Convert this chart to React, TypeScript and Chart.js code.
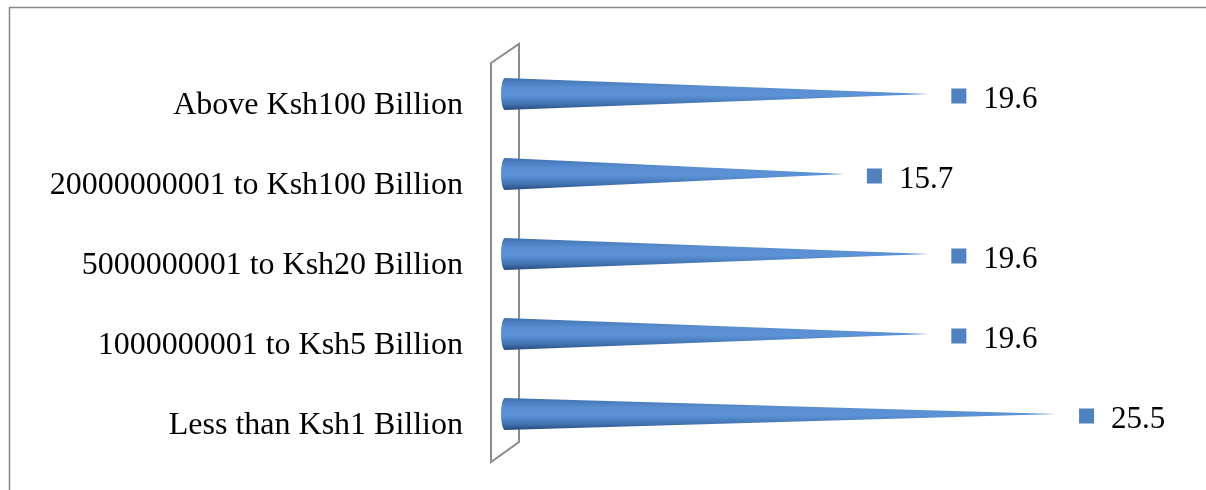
import React, { useEffect, useRef } from "react";
import { Chart, registerables } from "chart.js";

Chart.register(...registerables);

const categories = [
  "Above Ksh100 Billion",
  "20000000001 to Ksh100 Billion",
  "5000000001 to Ksh20 Billion",
  "1000000001 to Ksh5 Billion",
  "Less than Ksh1 Billion",
];
const values = [19.6, 15.7, 19.6, 19.6, 25.5];
const axisMin = 0;
const axisMax = 30;

const FONT = "'Liberation Serif', 'Times New Roman', serif";

export default function App() {
  const ref = useRef<HTMLCanvasElement>(null);

  useEffect(() => {
    const frame = {
      id: "frame",
      beforeDraw(chart: any) {
        const ctx = chart.ctx;
        ctx.save();
        ctx.fillStyle = "#ffffff";
        ctx.fillRect(0, 0, chart.width, chart.height);
        ctx.strokeStyle = "#868686";
        ctx.lineWidth = 1.5;
        ctx.beginPath();
        ctx.moveTo(9.5, chart.height + 5);
        ctx.lineTo(9.5, 7.5);
        ctx.lineTo(chart.width + 5, 7.5);
        ctx.stroke();
        ctx.restore();
      },
    };

    const wall = {
      id: "wall",
      beforeDatasetsDraw(chart: any) {
        const { left, top, bottom } = chart.chartArea;
        const ctx = chart.ctx;
        ctx.save();
        ctx.strokeStyle = "#8c8c8c";
        ctx.lineWidth = 2;
        ctx.beginPath();
        ctx.moveTo(left - 14, top + 9);
        ctx.lineTo(left + 14, top - 10);
        ctx.lineTo(left + 14, bottom - 12);
        ctx.lineTo(left - 14, bottom + 8);
        ctx.closePath();
        ctx.stroke();
        ctx.restore();
      },
    };

    const cones = {
      id: "cones",
      afterDatasetsDraw(chart: any) {
        const ctx = chart.ctx;
        const meta = chart.getDatasetMeta(0);
        const ds = chart.data.datasets[0];
        meta.data.forEach((el: any, i: number) => {
          const x0 = el.base;
          const xt = el.x;
          const yc = el.y;
          const r = el.height / 2;
          const ex = 4;
          ctx.save();
          const g = ctx.createLinearGradient(0, yc - r, 0, yc + r);
          g.addColorStop(0, "#3f70b0");
          g.addColorStop(0.3, "#5a8fd2");
          g.addColorStop(0.55, "#5c92d6");
          g.addColorStop(0.82, "#4172b0");
          g.addColorStop(1, "#274a7c");
          ctx.fillStyle = g;
          ctx.beginPath();
          ctx.moveTo(x0, yc - r);
          ctx.lineTo(xt, yc);
          ctx.lineTo(x0, yc + r);
          ctx.ellipse(x0, yc, ex, r, 0, Math.PI / 2, (3 * Math.PI) / 2, false);
          ctx.closePath();
          ctx.fill();

          // value label with marker
          ctx.fillStyle = "#4f81bd";
          ctx.fillRect(xt + 22, yc + 2 - 7.5, 15, 15);
          ctx.fillStyle = "#000000";
          ctx.font = `31px ${FONT}`;
          ctx.textAlign = "left";
          ctx.textBaseline = "middle";
          ctx.fillText(Number(ds.data[i]).toFixed(1), xt + 54, yc + 6);
          ctx.restore();
        });
      },
    };

    const chart = new Chart(ref.current as HTMLCanvasElement, {
      type: "bar",
      data: {
        labels: categories,
        datasets: [
          {
            data: values,
            backgroundColor: "rgba(0,0,0,0)",
            borderWidth: 0,
            barThickness: 32,
          },
        ],
      },
      options: {
        indexAxis: "y",
        animation: false,
        responsive: false,
        maintainAspectRatio: false,
        layout: { padding: { top: 54, bottom: 36, right: 51.5, left: 0 } },
        plugins: {
          legend: { display: false },
          tooltip: { enabled: false },
        },
        scales: {
          x: { display: false, min: axisMin, max: axisMax },
          y: {
            grid: { display: false, drawTicks: false },
            border: { display: false },
            ticks: {
              color: "#000000",
              font: { family: FONT, size: 32 },
              padding: 42,
              labelOffset: 12,
            },
            afterFit: (s: any) => {
              s.width = 505;
              s.paddingTop = 0;
              s.paddingBottom = 0;
            },
          },
        },
      },
      plugins: [frame, wall, cones],
    } as any);
    return () => chart.destroy();
  }, []);

  return (
    <div style={{ position: "fixed", left: 0, top: 0, width: 1206, height: 490, background: "#fff" }}>
      <canvas ref={ref} width={1206} height={490} style={{ display: "block" }} />
    </div>
  );
}
